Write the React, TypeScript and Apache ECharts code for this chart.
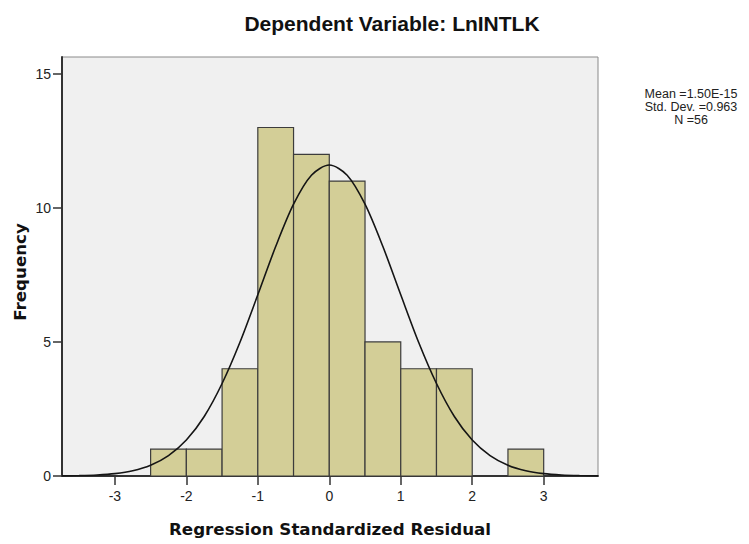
import React, { useEffect, useRef } from "react";
import * as echarts from "echarts";

// Histogram bins (regression standardized residual)
const binStart = [-2.5, -2.0, -1.5, -1.0, -0.5, 0.0, 0.5, 1.0, 1.5, 2.0, 2.5];
const binEnd = [-2.0, -1.5, -1.0, -0.5, 0.0, 0.5, 1.0, 1.5, 2.0, 2.5, 3.0];
const frequency = [1, 1, 4, 13, 12, 11, 5, 4, 4, 0, 1];

// Normal curve
const curveX = [
  -3.74, -3.5, -3.25, -3.0, -2.75, -2.5, -2.25, -2.0, -1.75, -1.5, -1.25, -1.0,
  -0.75, -0.5, -0.25, 0.0, 0.25, 0.5, 0.75, 1.0, 1.25, 1.5, 1.75, 2.0, 2.25,
  2.5, 2.75, 3.0, 3.25, 3.5, 3.76,
];
const curveY = [
  0.006, 0.016, 0.039, 0.09, 0.196, 0.4, 0.76, 1.34, 2.22, 3.45, 4.99, 6.76,
  8.56, 10.14, 11.22, 11.6, 11.22, 10.14, 8.56, 6.76, 4.99, 3.45, 2.22, 1.34,
  0.76, 0.4, 0.196, 0.09, 0.039, 0.016, 0.006,
];

const xTicks = [-3, -2, -1, 0, 1, 2, 3];
const yTicks = [0, 5, 10, 15];

const titleText = "Dependent Variable: LnINTLK";
const xName = "Regression Standardized Residual";
const yName = "Frequency";
const statsLines = ["Mean =1.50E-15", "Std. Dev. =0.963", "N =56"];

export default function App() {
  const ref = useRef<HTMLDivElement>(null);

  useEffect(() => {
    if (!ref.current) return;
    const chart = echarts.init(ref.current, null, { renderer: "svg" });

    const barData = binStart
      .map((s, i) => [s, binEnd[i], frequency[i]])
      .filter((d) => d[2] > 0);
    const lineData = curveX.map((x, i) => [x, curveY[i]]);

    const tickFont = {
      fontFamily: "'Liberation Sans', Arial, sans-serif",
      fontSize: 14,
      color: "#222",
    };

    const statsTexts = statsLines.map((t, i) => ({
      type: "text",
      x: 691,
      y: 94 + i * 13,
      style: {
        text: t,
        align: "center",
        verticalAlign: "middle",
        fontFamily: "'Liberation Sans', Arial, sans-serif",
        fontSize: 12.5,
        fill: "#222",
      },
    }));

    chart.setOption({
      animation: false,
      backgroundColor: "#ffffff",
      grid: {
        left: 62,
        right: 151,
        top: 57,
        bottom: 68,
        show: true,
        backgroundColor: "#f0f0f0",
        borderColor: "#8a8a8a",
        borderWidth: 1,
      },
      xAxis: {
        type: "value",
        min: -3.74,
        max: 3.76,
        splitLine: { show: false },
        axisLine: { show: true, onZero: false, lineStyle: { color: "#333", width: 2 } },
        axisTick: {
          show: true,
          customValues: xTicks,
          length: 9,
          lineStyle: { color: "#333", width: 1.5 },
        },
        axisLabel: {
          customValues: xTicks,
          margin: 13,
          ...tickFont,
        },
      },
      yAxis: {
        type: "value",
        min: 0,
        max: 15.63,
        splitLine: { show: false },
        axisLine: { show: true, onZero: false, lineStyle: { color: "#333", width: 2 } },
        axisTick: {
          show: true,
          customValues: yTicks,
          length: 9,
          lineStyle: { color: "#333", width: 1.5 },
        },
        axisLabel: {
          customValues: yTicks,
          margin: 11,
          ...tickFont,
        },
      },
      graphic: [
        {
          type: "text",
          x: 392,
          y: 23,
          style: {
            text: titleText,
            align: "center",
            verticalAlign: "middle",
            fontFamily: "'Liberation Sans', Arial, sans-serif",
            fontWeight: "bold",
            fontSize: 21,
            fill: "#111",
          },
        },
        {
          type: "text",
          x: 330,
          y: 529,
          style: {
            text: xName,
            align: "center",
            verticalAlign: "middle",
            fontFamily: "'DejaVu Sans', Verdana, sans-serif",
            fontWeight: "bold",
            fontSize: 16.7,
            fill: "#111",
          },
        },
        {
          type: "text",
          x: 20,
          y: 272,
          rotation: Math.PI / 2,
          style: {
            text: yName,
            align: "center",
            verticalAlign: "middle",
            fontFamily: "'DejaVu Sans', Verdana, sans-serif",
            fontWeight: "bold",
            fontSize: 16.7,
            fill: "#111",
          },
        },
        ...statsTexts,
      ],
      series: [
        {
          type: "custom",
          data: barData,
          encode: { x: [0, 1], y: 2 },
          renderItem: (params: any, api: any) => {
            const x0 = api.value(0);
            const x1 = api.value(1);
            const c = api.value(2);
            const p0 = api.coord([x0, 0]);
            const p1 = api.coord([x1, c]);
            return {
              type: "rect",
              shape: {
                x: p0[0],
                y: p1[1],
                width: p1[0] - p0[0],
                height: p0[1] - p1[1],
              },
              style: { fill: "#D3CE97", stroke: "#3c3c3c", lineWidth: 1.2 },
            };
          },
          z: 2,
        },
        {
          type: "line",
          data: lineData,
          smooth: 0.3,
          symbol: "none",
          lineStyle: { color: "#151515", width: 1.6 },
          z: 3,
        },
      ],
    });

    return () => chart.dispose();
  }, []);

  return (
    <div
      ref={ref}
      style={{ position: "fixed", left: 0, top: 0, width: 749, height: 544 }}
    />
  );
}
